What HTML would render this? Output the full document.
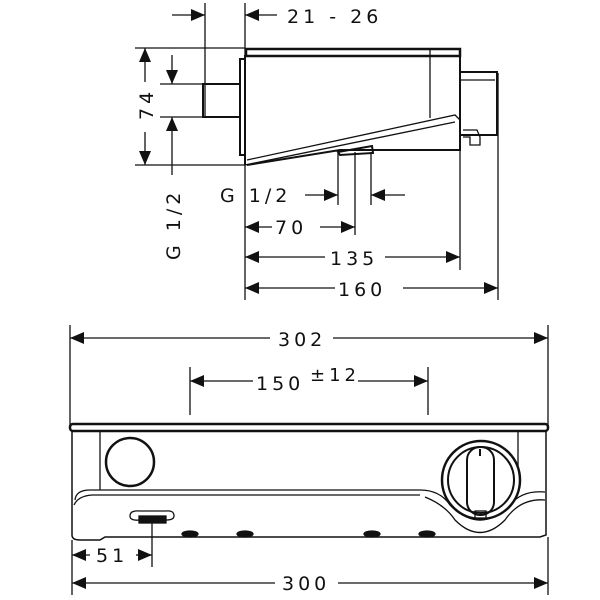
<!DOCTYPE html>
<html><head><style>
html,body{margin:0;padding:0;background:#fff;width:600px;height:600px;overflow:hidden}
svg text{font-family:"DejaVu Sans","Liberation Sans",sans-serif;font-size:19px;fill:#111;letter-spacing:4px}
</style></head><body>
<svg width="600" height="600" viewBox="0 0 600 600" xmlns="http://www.w3.org/2000/svg">
<defs>
<marker id="a" viewBox="0 0 14 12" refX="14" refY="6" markerWidth="14" markerHeight="12" orient="auto-start-reverse" markerUnits="userSpaceOnUse"><path d="M0,0 L14,6 L0,12 Z" fill="#111"/></marker>
</defs>
<g stroke="#111" fill="none" stroke-width="1.3">
<line x1="205" y1="3" x2="205" y2="117"/>
<line x1="245" y1="3" x2="245" y2="300"/>
<line x1="172" y1="15" x2="205" y2="15" marker-end="url(#a)"/>
<line x1="277" y1="15" x2="245" y2="15" marker-end="url(#a)"/>
<line x1="135" y1="48" x2="245" y2="48"/>
<line x1="135" y1="165" x2="245" y2="165"/>
<line x1="160" y1="84" x2="205" y2="84"/>
<line x1="160" y1="117" x2="205" y2="117"/>
<line x1="145" y1="82" x2="145" y2="48" marker-end="url(#a)"/>
<line x1="145" y1="132" x2="145" y2="165" marker-end="url(#a)"/>
<line x1="172" y1="55" x2="172" y2="84" marker-end="url(#a)"/>
<line x1="172" y1="175" x2="172" y2="117" marker-end="url(#a)"/>
<rect x="246" y="49" width="214" height="7" stroke-width="2.5"/>
<path d="M245 165 L245 56 L460 56 L460 150 L340 150 L247 165" stroke-width="2"/>
<path d="M247 160 L455 115 L460 120"/>
<path d="M245 165 L455 122"/>
<rect x="240" y="59" width="5" height="96" stroke-width="2"/>
<rect x="203" y="84" width="37" height="33" stroke-width="2"/>
<line x1="430" y1="49" x2="430" y2="118"/>
<path d="M460 72 L497 72 L497 135 L460 135" stroke-width="2"/>
<line x1="460" y1="80" x2="495" y2="80"/>
<path d="M463 130 L477 130 L480 137 L480 145 L470 145 L470 137 L463 137"/>
<path d="M338 152 L372 146 L373 153 L340 155 Z" stroke-width="2"/>
<line x1="338" y1="152" x2="338" y2="205"/>
<line x1="355" y1="152" x2="355" y2="235"/>
<line x1="371" y1="152" x2="371" y2="205"/>
<line x1="460" y1="150" x2="460" y2="270"/>
<line x1="498" y1="73" x2="498" y2="300"/>
<line x1="305" y1="195" x2="338" y2="195" marker-end="url(#a)"/>
<line x1="405" y1="195" x2="371" y2="195" marker-end="url(#a)"/>
<line x1="272" y1="227" x2="245" y2="227" marker-end="url(#a)"/>
<line x1="320" y1="227" x2="355" y2="227" marker-end="url(#a)"/>
<line x1="325" y1="257" x2="245" y2="257" marker-end="url(#a)"/>
<line x1="385" y1="257" x2="460" y2="257" marker-end="url(#a)"/>
<line x1="335" y1="288" x2="245" y2="288" marker-end="url(#a)"/>
<line x1="403" y1="288" x2="498" y2="288" marker-end="url(#a)"/>
<line x1="70" y1="325" x2="70" y2="430"/>
<line x1="548" y1="325" x2="548" y2="430"/>
<line x1="270" y1="338" x2="70" y2="338" marker-end="url(#a)"/>
<line x1="333" y1="338" x2="548" y2="338" marker-end="url(#a)"/>
<line x1="190" y1="367" x2="190" y2="415"/>
<line x1="428" y1="367" x2="428" y2="415"/>
<line x1="253" y1="381" x2="190" y2="381" marker-end="url(#a)"/>
<line x1="358" y1="381" x2="428" y2="381" marker-end="url(#a)"/>
<rect x="70" y="424" width="478" height="7" rx="3" stroke-width="2.5"/>
<path d="M72 431 L72 535 Q72 540 80 540 L100 540 L105 537 L540 537 L546 535 L546 431" stroke-width="1.5"/>
<line x1="100" y1="431" x2="100" y2="490"/>
<line x1="518" y1="431" x2="518" y2="490"/>
<path d="M75 500 Q76 490 90 490 L420 490"/>
<path d="M74 505 Q78 496 92 495 L420 495"/>
<path d="M420 490 Q440 490 450 505 Q480 535 510 505 Q522 490 545 492"/>
<path d="M425 497 Q445 505 455 520 Q480 545 505 520 Q520 498 545 500"/>
<circle cx="130" cy="462" r="24" stroke-width="2.5"/>
<circle cx="481" cy="480" r="39" stroke-width="2.5" fill="#fff"/>
<circle cx="481" cy="480" r="33" stroke-width="2"/>
<rect x="467" y="447" width="27" height="68" rx="13" stroke-width="2"/>
<line x1="480" y1="449" x2="480" y2="456" stroke-width="2"/>
<rect x="475" y="511" width="11" height="7"/>
<path d="M130 516 Q130 510 140 511 L166 511 Q174 510 174 516 Q174 520 166 520 L140 520 Q130 521 130 516 Z"/>
<rect x="139" y="516" width="27" height="7" fill="#111"/>
<ellipse cx="190" cy="534" rx="8" ry="3" fill="#111"/>
<ellipse cx="245" cy="534" rx="8" ry="3" fill="#111"/>
<ellipse cx="372" cy="534" rx="8" ry="3" fill="#111"/>
<ellipse cx="427" cy="534" rx="8" ry="3" fill="#111"/>
<line x1="152" y1="523" x2="152" y2="567"/>
<line x1="72" y1="540" x2="72" y2="595"/>
<line x1="548" y1="537" x2="548" y2="595"/>
<line x1="90" y1="555" x2="72" y2="555" marker-end="url(#a)"/>
<line x1="136" y1="555" x2="152" y2="555" marker-end="url(#a)"/>
<line x1="275" y1="583" x2="72" y2="583" marker-end="url(#a)"/>
<line x1="338" y1="583" x2="548" y2="583" marker-end="url(#a)"/>
</g>
<text x="287" y="23">21 - 26</text>
<text x="220" y="202">G 1/2</text>
<text x="275" y="234">70</text>
<text x="330" y="265">135</text>
<text x="338" y="296">160</text>
<text transform="translate(153,120) rotate(-90)">74</text>
<text transform="translate(180,260) rotate(-90)">G 1/2</text>
<text x="278" y="346">302</text>
<text x="256" y="390">150</text>
<text x="310" y="381" style="font-size:18px">±12</text>
<text x="96" y="562">51</text>
<text x="282" y="590">300</text>
</svg>
</body></html>
